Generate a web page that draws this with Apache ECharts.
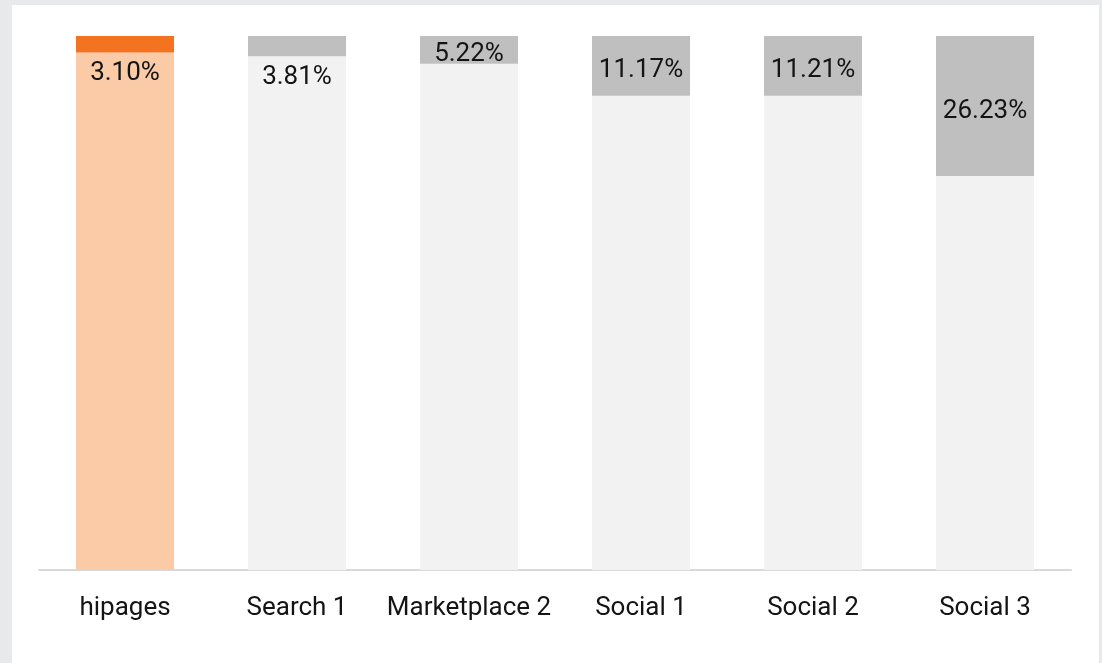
<!DOCTYPE html>
<html>
<head>
<meta charset="utf-8">
<script src="https://cdn.jsdelivr.net/npm/echarts@6/dist/echarts.min.js"></script>
<style>
	html, body { margin: 0; padding: 0; background: #e8e9eb; }
	#chart { position: absolute; left: 12px; top: 5px; width: 1087px; height: 658px; background: #ffffff; }
</style>
</head>
<body>
<div id="chart"></div>
<script>
// 分类与占比
var categories = ['hipages', 'Search 1', 'Marketplace 2', 'Social 1', 'Social 2', 'Social 3'];
var shares = [3.10, 3.81, 5.22, 11.17, 11.21, 26.23];
var totals = [100, 100, 100, 100, 100, 100];

function buildChart(){
	var myChart = echarts.init(document.getElementById('chart'));
	var restData = [];
	var shareData = [];
	for (var i = 0; i < categories.length; i++) {
		var first = (i == 0);
		var small = shares[i] < 5;
		restData.push({
			value: totals[i] - shares[i],
			itemStyle: { color: first ? '#fbcaa6' : '#f2f2f2' },
			label: { show: small, formatter: shares[i].toFixed(2) + '%' }
		});
		shareData.push({
			value: shares[i],
			itemStyle: { color: first ? '#f37321' : '#bfbfbf' },
			label: { show: !small, formatter: shares[i].toFixed(2) + '%' }
		});
	}
	var labelFont = { fontFamily: 'Roboto', fontSize: 26, color: '#141414' };
	var option = {
		animation: false,
		grid: { left: 27, right: 28, top: 31, bottom: 93 },
		xAxis: {
			type: 'category',
			data: categories,
			axisLine: { lineStyle: { color: '#d9d9d9', width: 2 } },
			axisTick: { show: false },
			axisLabel: { interval: 0, fontFamily: 'Roboto', fontSize: 26, color: '#141414', margin: 25 }
		},
		yAxis: {
			type: 'value',
			min: 0,
			max: 100,
			show: false,
			splitLine: { show: false }
		},
		series: [
			{
				type: 'bar',
				stack: 'all',
				barWidth: '57%',
				data: restData,
				label: Object.assign({ position: 'insideTop', distance: 8 }, labelFont)
			},
			{
				type: 'bar',
				stack: 'all',
				data: shareData,
				label: Object.assign({ position: 'inside', offset: [0, 5] }, labelFont)
			}
		]
	};
	myChart.setOption(option);
}

buildChart();
</script>
</body>
</html>
